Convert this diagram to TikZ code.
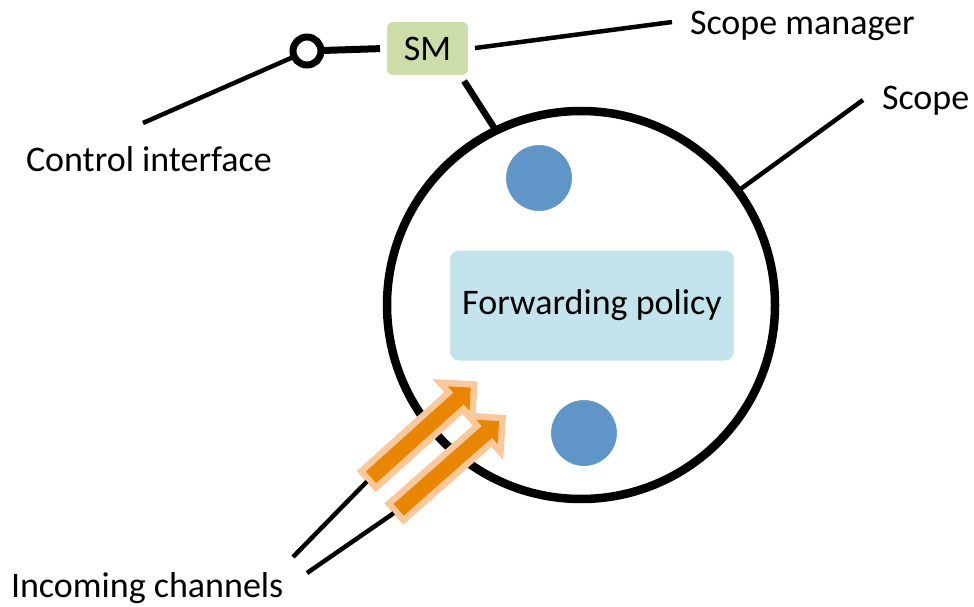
\documentclass[tikz,border=0pt]{standalone}
\usepackage{fontspec}
\setmainfont{Carlito}
\usetikzlibrary{shapes.arrows,shadows}

\definecolor{smgreen}{RGB}{205,221,170}
\definecolor{policyblue}{RGB}{195,228,236}
\definecolor{dotblue}{RGB}{96,149,199}
\definecolor{arroworange}{RGB}{234,133,0}
\definecolor{glowpeach}{RGB}{250,200,155}

\begin{document}
\begin{tikzpicture}[x=1pt,y=-1pt,
  every node/.style={inner sep=0pt, outer sep=0pt},
  bigfont/.style={font=\fontsize{36}{43}\selectfont},
  labeltext/.style={bigfont, anchor=base west},
  wire/.style={line width=4.5pt},
  softshadow/.style={drop shadow={opacity=0.3, shadow xshift=1.5pt, shadow yshift=-3pt}},
  ring/.style={circle, draw=black, line width=8.5pt, fill=white, minimum size=388pt, softshadow},
  dot/.style={circle, draw=white, line width=8pt, fill=dotblue, minimum size=74pt, softshadow},
  panel/.style={rectangle, rounded corners=12pt, draw=white, line width=7pt, softshadow, bigfont},
  chanarrow/.style={single arrow, inner xsep=0pt, inner ysep=7.5pt, minimum height=134pt,
    single arrow head extend=8.5pt, fill=arroworange,
    preaction={draw=glowpeach, line width=13pt, line join=miter}},
]
% page
\fill[white] (0,0) rectangle (974,607);
\useasboundingbox (0,0) rectangle (974,607);

% scope with its members
\node[ring] (scopering) at (581,305) {};
\node[dot] (dottop) at (539,178) {};
\node[dot] (dotbottom) at (584,433) {};
\node[panel, fill=policyblue, minimum width=291pt, minimum height=117pt] (policy) at (592,305.5) {Forwarding policy};

% scope manager and its control interface
\node[panel, fill=smgreen, rounded corners=9pt, minimum width=88pt, minimum height=60pt] (sm) at (427.5,48.5) {SM};
\node[circle, draw=black, line width=7pt, fill=white, minimum size=28pt] (ctrl) at (307,51) {};

\draw[line width=7pt, shorten >=3.5pt] (ctrl) -- (sm.west);
\draw[line width=6.5pt, shorten <=3pt] ([xshift=-9pt]sm.south east) -- (scopering.116);

% labels
\node[labeltext] (lblsm) at (690,35) {Scope manager};
\node[labeltext] (lblscope) at (882,110) {Scope};
\node[labeltext] (lblctrl) at (26,171) {Control interface};
\node[labeltext] (lblin) at (11,597) {Incoming channels};

\coordinate (smtip) at (672,22);
\coordinate (scopetip) at (863,100);
\coordinate (ctrltip) at (143,123);
\coordinate (intipa) at (293,557);
\coordinate (intipb) at (307,573);

\draw[wire, shorten <=3.5pt] (sm.east) -- (smtip);
\draw[wire] (scopering.36) -- (scopetip);
\draw[wire] (ctrltip) -- (ctrl);

% incoming channels
\node[chanarrow, rotate=42] (arra) at (418,435) {};
\node[chanarrow, rotate=41.4] (arrb) at (446,468) {};
\draw[wire, shorten >=6pt] (intipa) -- (arra.tail);
\draw[wire, shorten >=6pt] (intipb) -- (arrb.tail);
\end{tikzpicture}
\end{document}
